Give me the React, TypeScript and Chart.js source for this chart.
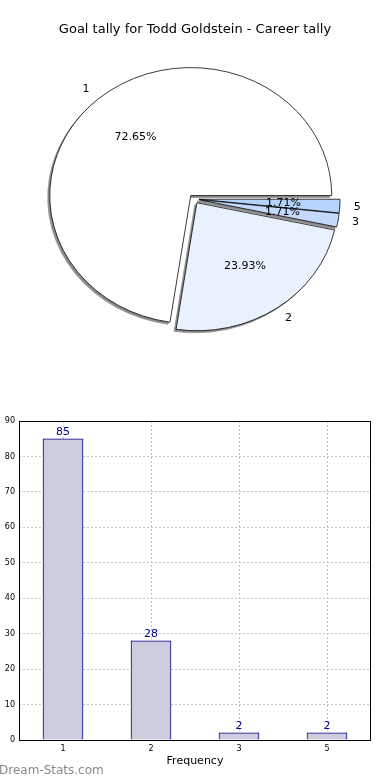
import React, { useEffect, useRef } from "react";
import { Chart, registerables } from "chart.js";

Chart.register(...registerables);

const TITLE = "Goal tally for Todd Goldstein - Career tally";
const categories = ["1", "2", "3", "5"];
const goals = [85, 28, 2, 2];
const pieColors = ["#ffffff", "#eaf1fe", "#c4d8fb", "#b5d4fb"];
const yMax = 90;
const yStep = 10;
const xTitle = "Frequency";
const watermark = "Dream-Stats.com";

const FONT = "'DejaVu Sans', sans-serif";
const SY = 128 / 141;
const EXPLODE = 5;

function drawPie(chart: any, ctx: CanvasRenderingContext2D) {
  const meta = chart.getDatasetMeta(0);
  meta.data.forEach((a: any) => {
    const mid = (a.startAngle + a.endAngle) / 2;
    ctx.save();
    ctx.translate(a.x, a.y);
    ctx.scale(1, SY);
    ctx.translate(Math.cos(mid) * EXPLODE, Math.sin(mid) * EXPLODE);
    ctx.translate(-a.x, -a.y);
    a.draw(ctx);
    ctx.restore();
  });
}

const pieShape = {
  id: "pieShape",
  beforeDatasetsDraw(chart: any) {
    const ctx = chart.ctx as CanvasRenderingContext2D;
    ctx.save();
    ctx.shadowColor = "#8c8c8c";
    ctx.shadowBlur = 0;
    ctx.shadowOffsetX = 10000 - 2;
    ctx.shadowOffsetY = 2;
    ctx.translate(-10000, 0);
    drawPie(chart, ctx);
    ctx.restore();
    drawPie(chart, ctx);
    return false;
  },
  afterDraw(chart: any) {
    const ctx = chart.ctx as CanvasRenderingContext2D;
    const meta = chart.getDatasetMeta(0);
    const data = chart.data.datasets[0].data as number[];
    const labels = chart.data.labels as string[];
    const total = data.reduce((s, v) => s + v, 0);
    ctx.save();
    ctx.fillStyle = "#000";
    ctx.font = `11px ${FONT}`;
    ctx.textBaseline = "middle";
    meta.data.forEach((a: any, i: number) => {
      const mid = (a.startAngle + a.endAngle) / 2;
      const c = Math.cos(mid);
      const s = Math.sin(mid);
      const ox = a.x + c * EXPLODE;
      const oy = a.y + s * EXPLODE * SY;
      const r = a.outerRadius;
      ctx.textAlign = c >= 0 ? "left" : "right";
      ctx.fillText(labels[i], ox + 1.1 * r * c, oy + 1.1 * r * s * SY);
      ctx.textAlign = "center";
      ctx.fillText(((data[i] / total) * 100).toFixed(2) + "%", ox + 0.6 * r * c, oy + 0.6 * r * s * SY);
    });
    ctx.font = `13px ${FONT}`;
    ctx.textAlign = "center";
    ctx.fillText(TITLE, 195, 30);
    ctx.restore();
  },
};

const frame = {
  id: "frame",
  afterDraw(chart: any) {
    const { left, top, right, bottom } = chart.chartArea;
    const ctx = chart.ctx as CanvasRenderingContext2D;
    ctx.save();
    ctx.strokeStyle = "#000";
    ctx.lineWidth = 1;
    ctx.strokeRect(Math.round(left) + 0.5, Math.round(top) + 0.5, Math.round(right - left) - 1, Math.round(bottom - top));
    ctx.restore();
  },
};

const valueLabels = {
  id: "valueLabels",
  afterDatasetsDraw(chart: any) {
    const ctx = chart.ctx as CanvasRenderingContext2D;
    const meta = chart.getDatasetMeta(0);
    const data = chart.data.datasets[0].data as number[];
    ctx.save();
    ctx.fillStyle = "#00008b";
    ctx.font = `11px ${FONT}`;
    ctx.textAlign = "center";
    ctx.textBaseline = "bottom";
    meta.data.forEach((b: any, i: number) => {
      ctx.fillText(String(data[i]), b.x, b.y - 1);
    });
    ctx.restore();
  },
};

export default function App() {
  const pieRef = useRef<HTMLCanvasElement>(null);
  const barRef = useRef<HTMLCanvasElement>(null);

  useEffect(() => {
    const pieLabels = [...categories].reverse();
    const pieData = [...goals].reverse();
    const pieBg = [...pieColors].reverse();
    const pie = new Chart(pieRef.current!, {
      type: "pie",
      data: {
        labels: pieLabels,
        datasets: [
          {
            data: pieData,
            backgroundColor: pieBg,
            borderColor: "#000",
            borderWidth: 0.8,
          },
        ],
      },
      options: {
        responsive: false,
        animation: false,
        rotation: 90,
        radius: 141,
        layout: { padding: { left: 0, right: 2, top: 0, bottom: 2 } },
        events: [],
        plugins: { legend: { display: false }, tooltip: { enabled: false }, title: { display: false } },
      } as any,
      plugins: [pieShape],
    });

    const bar = new Chart(barRef.current!, {
      type: "bar",
      data: {
        labels: categories,
        datasets: [
          {
            data: goals,
            backgroundColor: "#ccccdf",
            borderColor: "#000080",
            borderWidth: 1,
            barThickness: 40,
          },
        ],
      },
      options: {
        responsive: false,
        animation: false,
        events: [],
        layout: { padding: { top: 21, right: 19, left: 0, bottom: 0 } },
        plugins: { legend: { display: false }, tooltip: { enabled: false } },
        scales: {
          x: {
            z: 1,
            offset: true,
            grid: { offset: false, color: "#c4c4c4", drawTicks: false, tickLength: 0 },
            border: { display: false, dash: [2, 2] },
            ticks: { color: "#000", font: { size: 8, family: FONT }, padding: 4 },
            title: { display: true, text: xTitle, color: "#000", font: { size: 11, family: FONT }, padding: { top: 2, bottom: 12 } },
            afterFit: (s: any) => {
              s.height = 40;
            },
          },
          y: {
            z: 1,
            min: 0,
            max: yMax,
            grid: { color: "#c4c4c4", drawTicks: false, tickLength: 0 },
            border: { display: false, dash: [2, 2] },
            ticks: { stepSize: yStep, color: "#000", font: { size: 8, family: FONT }, padding: 4 },
            afterFit: (s: any) => {
              s.width = 19;
            },
          },
        },
      } as any,
      plugins: [valueLabels, frame],
    });

    return () => {
      pie.destroy();
      bar.destroy();
    };
  }, []);

  return (
    <div style={{ position: "absolute", left: 0, top: 0, width: 390, height: 780, overflow: "hidden", background: "#fff" }}>
      <canvas ref={pieRef} width={390} height={400} style={{ position: "absolute", left: 0, top: 0, width: 390, height: 400 }} />
      <canvas ref={barRef} width={390} height={380} style={{ position: "absolute", left: 0, top: 400, width: 390, height: 380 }} />
      <div
        style={{
          position: "absolute",
          left: -1,
          top: 763,
          fontFamily: FONT,
          fontSize: 12,
          color: "#888",
          lineHeight: "14px",
          whiteSpace: "nowrap",
        }}
      >
        {watermark}
      </div>
    </div>
  );
}
